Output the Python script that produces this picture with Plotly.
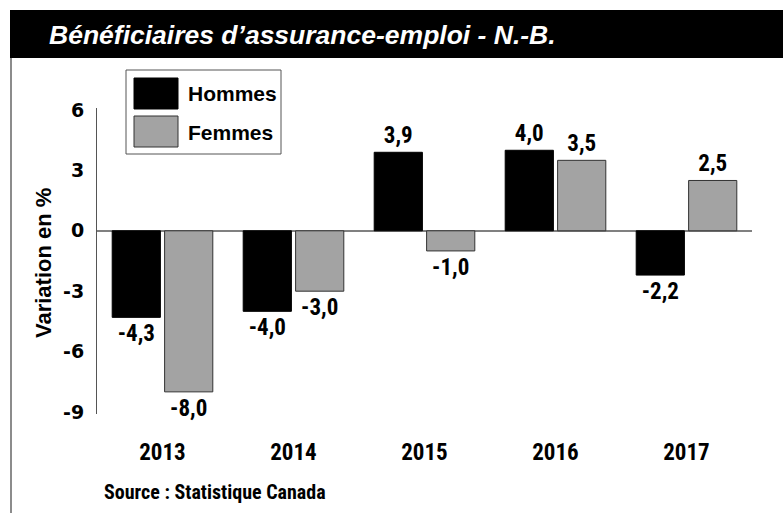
import plotly.graph_objects as go

# ---- data ----
years = ["2013", "2014", "2015", "2016", "2017"]
hommes = [-4.3, -4.0, 3.9, 4.0, -2.2]
femmes = [-8.0, -3.0, -1.0, 3.5, 2.5]
series_names = ["Hommes", "Femmes"]
y_ticks = [-9, -6, -3, 0, 3, 6]
y_tick_labels = ["-9", "-6", "-3", "0", "3", "6"]
title_text = "Bénéficiaires d’assurance-emploi - N.-B."
y_title = "Variation en %"
source_text = "Source : Statistique Canada"

W, H = 783, 513
ML, MR, MT, MB = 97, 31, 108, 99
PW, PH = W - ML - MR, H - MT - MB

NARROW = "Liberation Sans Narrow, Roboto Condensed, Arial Narrow, Liberation Sans, sans-serif"
NORMAL = "Liberation Sans, Arial, sans-serif"
TICKF = "DejaVu Sans, Verdana, sans-serif"


def fmt(v):
    return f"{v:.1f}".replace(".", ",")


def px(x):
    return (x - ML) / PW


def py(y):
    return (H - MB - y) / PH


fig = go.Figure()
fig.add_trace(go.Bar(
    name=series_names[0], x=years, y=hommes,
    marker=dict(color="#000000", line=dict(color="#000000", width=1)),
    text=[fmt(v) for v in hommes], textposition="outside",
    textfont=dict(family=NARROW, size=23, color="#000000", weight="bold"),
    cliponaxis=False, constraintext="none", showlegend=False,
))
fig.add_trace(go.Bar(
    name=series_names[1], x=years, y=femmes,
    marker=dict(color="#a3a3a3", line=dict(color="#333333", width=1)),
    text=[fmt(v) for v in femmes], textposition="outside",
    textfont=dict(family=NARROW, size=23, color="#000000", weight="bold"),
    cliponaxis=False, constraintext="none", showlegend=False,
))

shapes = [
    # title bar
    dict(type="rect", xref="paper", yref="paper", x0=px(10), x1=px(W + 5), y0=py(58), y1=py(10),
         fillcolor="#000000", line=dict(width=0), layer="above"),
    # left border
    dict(type="line", xref="paper", yref="paper", x0=px(11), x1=px(11), y0=py(58), y1=py(H + 5),
         line=dict(color="#666666", width=1.5)),
    # legend box
    dict(type="rect", xref="paper", yref="paper", x0=px(126), x1=px(281), y0=py(154), y1=py(70),
         fillcolor="#ffffff", line=dict(color="#555555", width=1), layer="above"),
    # legend swatches
    dict(type="rect", xref="paper", yref="paper", x0=px(134), x1=px(178), y0=py(109), y1=py(78),
         fillcolor="#000000", line=dict(color="#000000", width=1), layer="above"),
    dict(type="rect", xref="paper", yref="paper", x0=px(134), x1=px(178), y0=py(147), y1=py(116),
         fillcolor="#a3a3a3", line=dict(color="#333333", width=1), layer="above"),
]

annotations = [
    dict(text=title_text, xref="paper", yref="paper", x=px(47), y=py(35), xanchor="left", yanchor="middle",
         showarrow=False, font=dict(family=NORMAL, size=26.5, color="#ffffff", weight="bold", style="italic")),
    dict(text=y_title, xref="paper", yref="paper", x=px(43), y=py(263), xanchor="center", yanchor="middle",
         textangle=-90, showarrow=False, font=dict(family=NORMAL, size=22, color="#000000", weight="bold")),
    dict(text=source_text, xref="paper", yref="paper", x=px(102), y=py(492), xanchor="left", yanchor="middle",
         showarrow=False, font=dict(family=NARROW, size=20, color="#000000", weight="bold")),
    dict(text=series_names[0], xref="paper", yref="paper", x=px(186), y=py(94), xanchor="left", yanchor="middle",
         showarrow=False, font=dict(family=NORMAL, size=21, color="#000000", weight="bold")),
    dict(text=series_names[1], xref="paper", yref="paper", x=px(186), y=py(132), xanchor="left", yanchor="middle",
         showarrow=False, font=dict(family=NORMAL, size=21, color="#000000", weight="bold")),
]

fig.update_layout(
    width=W, height=H, autosize=False,
    margin=dict(l=ML, r=MR, t=MT, b=MB, pad=0),
    paper_bgcolor="#ffffff", plot_bgcolor="#ffffff",
    barmode="group", bargap=0.2, bargroupgap=0.08,
    shapes=shapes, annotations=annotations,
    xaxis=dict(type="category", categoryorder="array", categoryarray=years, range=[-0.5, 4.5],
               showline=False, showgrid=False, zeroline=False, ticks="",
               tickfont=dict(family=NARROW, size=23, color="#000000", weight="bold"),
               ticklabelstandoff=22),
    yaxis=dict(range=[-9.1, 6.1], tickvals=y_ticks, ticktext=y_tick_labels,
               showgrid=False, showline=True, linecolor="#555555", linewidth=1,
               zeroline=True, zerolinecolor="#808080", zerolinewidth=2,
               ticks="outside", ticklen=8, tickcolor="rgba(0,0,0,0)",
               tickfont=dict(family=TICKF, size=19, color="#000000", weight="bold")),
    showlegend=False,
)

fig.write_html("out.html", config={"displayModeBar": False},
               post_script="document.body.style.margin='0px';document.body.style.padding='0px';")
